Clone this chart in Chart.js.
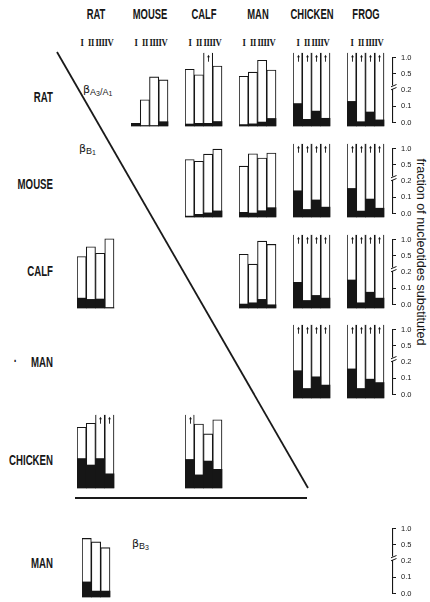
<!DOCTYPE html>
<html>
<head>
<meta charset="utf-8">
<script src="https://cdn.jsdelivr.net/npm/chart.js@4.4.1/dist/chart.umd.min.js"></script>
<style>
  html, body { margin: 0; padding: 0; background: #fff; }
  #fig { position: relative; width: 430px; height: 602px; overflow: hidden; background: #fff;
         font-family: 'Liberation Sans', sans-serif; color: #161616; }
  #fig canvas { position: absolute; }
  .head { position: absolute; font-weight: bold; font-size: 11.5px; white-space: nowrap;
          transform: translate(-50%, -50%) scale(0.82, 1.2); }
  .rowlab { position: absolute; font-weight: bold; font-size: 11.5px; white-space: nowrap;
            transform-origin: 100% 50%; transform: translate(-100%, -50%) scale(0.84, 1.2); }
  .num { position: absolute; font-family: 'Liberation Serif', serif; font-weight: bold; font-size: 9.5px;
         white-space: nowrap; letter-spacing: -0.4px; transform: translate(-50%, -50%) scaleX(0.9); }
  .beta { position: absolute; font-family: 'DejaVu Sans', sans-serif; font-size: 11px; white-space: nowrap;
          transform: translateY(-50%); color: #161616; }
  .beta sub { font-family: 'Liberation Sans', sans-serif; font-size: 9px; vertical-align: -2px; }
  .beta sub sub { font-size: 7px; vertical-align: -1.5px; }
  #ytitle { position: absolute; left: 421px; top: 252px; font-family: 'Liberation Sans', sans-serif;
            font-size: 12.6px; white-space: nowrap; transform: translate(-50%, -50%) rotate(90deg); }
  #frame { position: absolute; left: 0; top: 0; }
</style>
</head>
<body>
<div id="fig">
  <svg id="frame" width="430" height="602">
    <line x1="57" y1="52" x2="308" y2="488" stroke="#1a1a1a" stroke-width="1.8"/>
    <line x1="75" y1="498" x2="307" y2="498" stroke="#1a1a1a" stroke-width="1.8"/>
  </svg>
  <div id="ytitle">fraction of nucleotides substituted</div>
</div>
<script>
// Species compared and the four gene regions of each comparison
const SPECIES = ['RAT', 'MOUSE', 'CALF', 'MAN', 'CHICKEN', 'FROG'];
const ROW_LABELS = ['RAT', 'MOUSE', 'CALF', 'MAN', 'CHICKEN', 'MAN'];
const REGIONS = ['I', 'II', 'III', 'IV'];
const REGIONS_B3 = ['I', 'II', 'III'];
// Axis tick values; each interval takes the same height on the broken axis
const AXIS_TICKS = [0.0, 0.1, 0.2, 0.5, 1.0];
// Fraction too high to be estimated: bar runs off the top, marked with an arrow
const OFF = Infinity;

// βA3/A1 (upper triangle): silent (white) and replacement (black) fractions
const ratMouseSil   = [0.015, 0.146, 0.42, 0.37];
const ratMouseRep   = [0.015, 0, 0, 0.024];
const ratCalfSil    = [0.58, 0.455, OFF, 0.67];
const ratCalfRep    = [0.011, 0.015, 0.015, 0.025];
const ratManSil     = [0.43, 0.50, 0.83, 0.56];
const ratManRep     = [0.008, 0.012, 0.022, 0.042];
const ratChickSil   = [OFF, OFF, OFF, OFF];
const ratChickRep   = [0.125, 0.037, 0.083, 0.043];
const ratFrogSil    = [OFF, OFF, OFF, OFF];
const ratFrogRep    = [0.137, 0.024, 0.078, 0.034];

const mouseCalfSil  = [0.60, 0.55, 0.75, 0.89];
const mouseCalfRep  = [0.005, 0.015, 0.023, 0.034];
const mouseManSil   = [0.45, 0.76, 0.64, 0.78];
const mouseManRep   = [0.026, 0.022, 0.035, 0.052];
const mouseChickSil = [OFF, OFF, OFF, OFF];
const mouseChickRep = [0.146, 0.042, 0.095, 0.055];
const mouseFrogSil  = [OFF, OFF, OFF, OFF];
const mouseFrogRep  = [0.159, 0.033, 0.10, 0.049];

const calfManSil    = [0.497, 0.332, 0.86, 0.77];
const calfManRep    = [0.022, 0.029, 0.048, 0.018];
const calfChickSil  = [OFF, OFF, OFF, OFF];
const calfChickRep  = [0.143, 0.042, 0.07, 0.055];
const calfFrogSil   = [OFF, OFF, OFF, OFF];
const calfFrogRep   = [0.156, 0.029, 0.088, 0.055];

const manChickSil   = [OFF, OFF, OFF, OFF];
const manChickRep   = [0.152, 0.053, 0.118, 0.072];
const manFrogSil    = [OFF, OFF, OFF, OFF];
const manFrogRep    = [0.162, 0.053, 0.105, 0.086];

// βB1 (lower triangle)
const b1CalfRatSil  = [0.46, 0.705, 0.525, 0.925];
const b1CalfRatRep  = [0.055, 0.048, 0.05, 0];
const b1ChickRatSil = [0.69, 0.80, OFF, OFF];
const b1ChickRatRep = [0.164, 0.128, 0.164, 0.079];
const b1ChickCalfSil = [OFF, 0.78, 0.505, 0.90];
const b1ChickCalfRep = [0.159, 0.073, 0.15, 0.104];

// βB3: man vs rat, regions I–III
const b3ManRatSil   = [0.63, 0.535, 0.425];
const b3ManRatRep   = [0.084, 0.033, 0.033];

// Panel table: grid row / column and the series drawn in it
const PANELS = [
  { row: 0, col: 1, sil: ratMouseSil, rep: ratMouseRep },
  { row: 0, col: 2, sil: ratCalfSil, rep: ratCalfRep },
  { row: 0, col: 3, sil: ratManSil, rep: ratManRep },
  { row: 0, col: 4, sil: ratChickSil, rep: ratChickRep },
  { row: 0, col: 5, sil: ratFrogSil, rep: ratFrogRep },
  { row: 1, col: 2, sil: mouseCalfSil, rep: mouseCalfRep },
  { row: 1, col: 3, sil: mouseManSil, rep: mouseManRep },
  { row: 1, col: 4, sil: mouseChickSil, rep: mouseChickRep },
  { row: 1, col: 5, sil: mouseFrogSil, rep: mouseFrogRep },
  { row: 2, col: 0, sil: b1CalfRatSil, rep: b1CalfRatRep },
  { row: 2, col: 3, sil: calfManSil, rep: calfManRep },
  { row: 2, col: 4, sil: calfChickSil, rep: calfChickRep },
  { row: 2, col: 5, sil: calfFrogSil, rep: calfFrogRep },
  { row: 3, col: 4, sil: manChickSil, rep: manChickRep },
  { row: 3, col: 5, sil: manFrogSil, rep: manFrogRep },
  { row: 4, col: 0, sil: b1ChickRatSil, rep: b1ChickRatRep },
  { row: 4, col: 2, sil: b1ChickCalfSil, rep: b1ChickCalfRep },
  { row: 5, col: 0, sil: b3ManRatSil, rep: b3ManRatRep, labels: REGIONS_B3, dx: 5 }
];
const AXIS_ROWS = [0, 1, 2, 3, 5];

// Layout
const COL_X0 = 77, COL_STEP = 54, BAR_W = 9.25;
const BASELINES = [126, 217, 308, 398, 488, 597];
const ROW_LABEL_Y = [97, 184, 271, 362, 460, 563];
const PLOT_H = 74;        // canvas px from 0.0 to the top of the plot box
const HEADROOM = 0.12;    // extra axis units above 1.0 in the panels
const OFF_OVER = 0.08;    // how far off-scale bars rise above 1.0 (axis units)
const INK = '#161616';

// Broken axis: 0–0.1–0.2 // 0.5–1.0, every tick interval the same height
function toUnit(v) {
  if (v === Infinity) return AXIS_TICKS.length - 1 + OFF_OVER;
  if (v <= AXIS_TICKS[0]) return 0;
  for (let i = 0; i < AXIS_TICKS.length - 1; i++) {
    const a = AXIS_TICKS[i], b = AXIS_TICKS[i + 1];
    if (v <= b) return i + (v - a) / (b - a);
  }
  return AXIS_TICKS.length - 1;
}
function fromUnit(u) {
  const i = Math.max(0, Math.min(AXIS_TICKS.length - 2, Math.floor(u)));
  const a = AXIS_TICKS[i], b = AXIS_TICKS[i + 1];
  return a + (u - i) * (b - a);
}

class BrokenScale extends Chart.LinearScale {
  determineDataLimits() {
    this.min = 0;
    this.max = AXIS_TICKS.length - 1 + (this.options.headroom || 0);
  }
  buildTicks() {
    this.start = this.min;
    this.end = this.max;
    return AXIS_TICKS.map(v => ({ value: v }));
  }
  parse(raw, index) {
    return raw === Infinity ? Infinity : super.parse(raw, index);
  }
  getPixelForValue(v) {
    if (v === null || v === undefined || Number.isNaN(v)) return NaN;
    return super.getPixelForValue(toUnit(v));
  }
  getValueForPixel(p) {
    return fromUnit(super.getValueForPixel(p));
  }
}
BrokenScale.id = 'broken';
BrokenScale.defaults = Chart.LinearScale.defaults;
Chart.register(BrokenScale);

// Arrow drawn at the top of every off-scale bar
const offScaleArrows = {
  id: 'offScaleArrows',
  afterDatasetsDraw(chart) {
    const ds = chart.data.datasets[1];
    const meta = chart.getDatasetMeta(1);
    const ctx = chart.ctx;
    ctx.save();
    ctx.strokeStyle = INK;
    ctx.fillStyle = INK;
    ctx.lineWidth = 0.9;
    meta.data.forEach((bar, i) => {
      if (ds.data[i] !== Infinity) return;
      const x = Math.round(bar.x) + 0.5, y = bar.y + 2;
      ctx.beginPath();
      ctx.moveTo(x, y + 7);
      ctx.lineTo(x, y + 1.5);
      ctx.stroke();
      ctx.beginPath();
      ctx.moveTo(x, y);
      ctx.lineTo(x - 1.4, y + 2.6);
      ctx.lineTo(x + 1.4, y + 2.6);
      ctx.closePath();
      ctx.fill();
    });
    ctx.restore();
  }
};

// Break mark across the axis line just above 0.2
const axisBreak = {
  id: 'axisBreak',
  afterDraw(chart) {
    const s = chart.scales.y;
    const ctx = chart.ctx;
    const x = s.left + 0.5;
    const y = s.getPixelForValue(0.2) - 2;
    ctx.save();
    ctx.fillStyle = '#fff';
    ctx.fillRect(x - 2, y - 2.5, 4, 3.5);
    ctx.strokeStyle = INK;
    ctx.lineWidth = 1;
    ctx.beginPath();
    ctx.moveTo(x - 3, y - 1); ctx.lineTo(x + 3, y - 3.5);
    ctx.moveTo(x - 3, y + 2); ctx.lineTo(x + 3, y - 0.5);
    ctx.stroke();
    ctx.restore();
  }
};

const fig = document.getElementById('fig');

function addCanvas(left, top, w, h) {
  const c = document.createElement('canvas');
  c.width = w; c.height = h;
  c.style.left = left + 'px'; c.style.top = top + 'px';
  c.style.width = w + 'px'; c.style.height = h + 'px';
  fig.appendChild(c);
  return c;
}

function addText(cls, text, x, y, html) {
  const d = document.createElement('div');
  d.className = cls;
  if (html) d.innerHTML = text; else d.textContent = text;
  d.style.left = x + 'px';
  d.style.top = y + 'px';
  fig.appendChild(d);
  return d;
}

const common = {
  responsive: false,
  animation: false,
  devicePixelRatio: 1,
  events: [],
  plugins: { legend: { display: false }, tooltip: { enabled: false } }
};

// One small bar chart per species pair
PANELS.forEach(p => {
  const labels = p.labels || REGIONS;
  const w = Math.round(BAR_W * labels.length);
  const left = COL_X0 + COL_STEP * p.col + (p.dx || 0);
  const top = BASELINES[p.row] - PLOT_H;
  const canvas = addCanvas(left, top, w + 1, PLOT_H + 1);
  new Chart(canvas, {
    type: 'bar',
    data: {
      labels: labels,
      datasets: [
        { label: 'replacement', data: p.rep, backgroundColor: INK, borderWidth: 0,
          grouped: false, barPercentage: 1, categoryPercentage: 1, clip: false },
        { label: 'silent', data: p.sil, backgroundColor: '#fff', borderColor: INK, borderWidth: 1.1,
          borderSkipped: c => (c.raw === Infinity ? 'top' : false),
          grouped: false, barPercentage: 1, categoryPercentage: 1, clip: false }
      ]
    },
    options: Object.assign({}, common, {
      layout: { padding: { left: 0, right: 1, top: 0, bottom: 1 } },
      scales: {
        x: { type: 'category', display: false, stacked: false, offset: true },
        y: { type: 'broken', display: false, stacked: false, headroom: HEADROOM }
      }
    }),
    plugins: [offScaleArrows]
  });
});

// Stand-alone broken axes at the right of the rows
AXIS_ROWS.forEach(r => {
  const pad = 6;
  const axisH = PLOT_H * 4 / (4 + HEADROOM);
  const canvas = addCanvas(391, BASELINES[r] - axisH - pad, 30, Math.round(axisH + 2 * pad));
  new Chart(canvas, {
    type: 'bar',
    data: { labels: [''], datasets: [] },
    options: Object.assign({}, common, {
      layout: { padding: { left: 0, right: 0, top: pad, bottom: pad } },
      scales: {
        x: { type: 'category', display: false },
        y: {
          type: 'broken', position: 'right', headroom: 0,
          afterFit: s => { s.width = 28; },
          border: { display: true, color: INK, width: 1.1 },
          grid: { drawOnChartArea: false, drawTicks: true, tickLength: 3, lineWidth: 1,
                  tickColor: c => (c.tick && c.tick.value === 0.2 ? 'rgba(0,0,0,0)' : INK) },
          ticks: { autoSkip: false, padding: 5, color: INK,
                   font: { family: 'Liberation Sans', size: 7.5 },
                   callback: v => v.toFixed(1) }
        }
      }
    }),
    plugins: [axisBreak]
  });
});

// Column headers and region numerals
SPECIES.forEach((sp, i) => {
  const left = COL_X0 + COL_STEP * i;
  addText('head', sp, left + BAR_W * 2, 14);
  REGIONS.forEach((rg, j) => addText('num', rg, left + BAR_W * (j + 0.5), 43));
});

// Row labels
ROW_LABELS.forEach((sp, r) => addText('rowlab', sp, 53, ROW_LABEL_Y[r]));
addText('rowlab', '·', 17, ROW_LABEL_Y[3] - 1);

// Gene labels
addText('beta', 'β<sub>A<sub>3</sub>/A<sub>1</sub></sub>', 83, 90, true);
addText('beta', 'β<sub>B<sub>1</sub></sub>', 79, 149, true);
addText('beta', 'β<sub>B<sub>3</sub></sub>', 132, 544, true);
</script>
</body>
</html>
